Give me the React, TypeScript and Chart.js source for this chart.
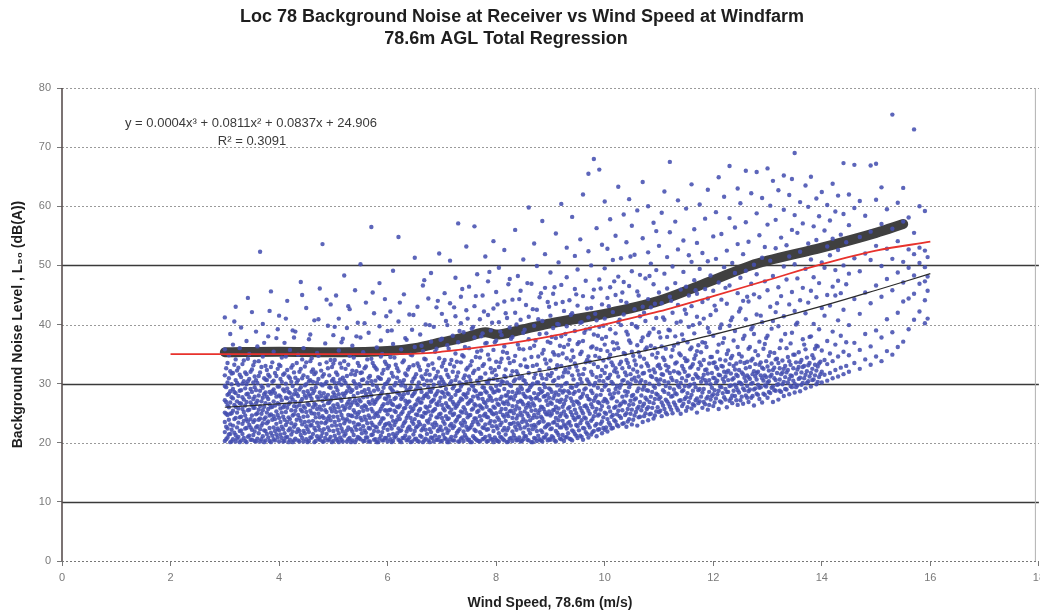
import React, { useEffect, useRef } from "react";
import { Chart, registerables } from "chart.js";

Chart.register(...registerables);

// ---------- text ----------
const titleLines = [
  "Loc 78 Background Noise at Receiver vs Wind Speed at Windfarm",
  "78.6m AGL Total Regression",
];
const xAxisTitle = "Wind Speed, 78.6m (m/s)";
const yAxisTitle = "Background Noise Level , L\u2089\u2080 (dB(A))";
const equationText = "y = 0.0004x\u00B3 + 0.0811x\u00B2 + 0.0837x + 24.906";
const rSquaredText = "R\u00B2 = 0.3091";

// ---------- axes ----------
const xMin = 0;
const xMax = 18;
const xStep = 2;
const yMin = 0;
const yMax = 80;
const yStep = 10;
const yGridValues = [10, 20, 30, 40, 50, 60, 70, 80];
const solidGridValues = [10, 30, 50];

// ---------- measured points: [windSpeed, noise1, noise2, ...] ----------
const scatter3to5: number[][] = [
  [3.00, 20.3, 21.8, 23.5, 25.1, 27.2, 29.6, 31.4, 35.8, 41.2],
  [3.05, 20.9, 22.4, 24.7, 26.3, 28.1, 30.2, 33.5],
  [3.10, 20.1, 21.5, 23.1, 24.9, 26.8, 28.7, 32.1, 38.4],
  [3.15, 20.6, 22.9, 25.4, 27.5, 29.1, 31.8, 36.6],
  [3.20, 20.2, 21.3, 24.2, 26.1, 28.4, 30.6, 34.1, 43.0],
  [3.25, 21.0, 23.4, 25.8, 27.9, 29.8, 32.7],
  [3.30, 20.4, 22.1, 24.4, 26.6, 28.9, 31.1, 39.5],
  [3.35, 20.8, 23.7, 25.2, 27.3, 30.4, 33.9],
  [3.40, 20.1, 22.5, 24.0, 26.9, 28.2, 29.9, 31.6, 37.2],
  [3.45, 21.2, 23.0, 25.6, 27.7, 30.8, 35.0],
  [3.50, 20.5, 22.2, 24.6, 26.4, 28.6, 32.4, 42.1],
  [3.55, 20.3, 21.9, 23.8, 25.9, 27.8, 29.4, 31.2, 33.7],
  [3.60, 20.7, 22.8, 25.0, 27.1, 30.1, 36.3],
  [3.65, 20.2, 22.3, 24.1, 26.2, 28.8, 31.9, 52.3],
  [3.70, 21.1, 23.3, 25.5, 27.6, 29.3, 34.6, 40.1],
  [3.75, 20.4, 22.0, 24.3, 26.7, 28.5, 30.7, 33.0],
  [3.80, 20.9, 23.6, 25.7, 27.4, 29.7, 31.5, 38.0],
  [3.85, 20.1, 21.7, 24.8, 26.0, 28.3, 32.8, 45.6],
  [3.90, 20.6, 22.6, 24.5, 27.0, 29.0, 30.5, 35.4],
  [3.95, 21.4, 23.2, 25.3, 27.8, 31.3, 37.7],
  [4.00, 20.2, 22.1, 24.2, 26.5, 28.0, 29.5, 33.2, 41.5],
  [4.05, 20.8, 22.7, 25.1, 27.2, 30.3, 34.4],
  [4.10, 20.3, 21.6, 23.9, 26.3, 28.7, 31.7, 36.9],
  [4.15, 21.0, 23.5, 25.9, 27.5, 29.2, 32.3, 44.0],
  [4.20, 20.5, 22.4, 24.0, 26.8, 28.4, 30.9, 35.7],
  [4.25, 20.1, 21.9, 24.6, 27.3, 29.6, 33.1, 39.0],
  [4.30, 20.7, 23.1, 25.4, 26.9, 28.9, 31.0, 38.8],
  [4.35, 20.4, 22.3, 24.7, 27.9, 30.6, 34.9],
  [4.40, 21.3, 23.7, 25.6, 27.0, 29.4, 32.5, 47.2],
  [4.45, 20.2, 22.0, 24.4, 26.2, 28.6, 31.4, 36.0],
  [4.50, 20.6, 22.8, 25.2, 27.6, 29.9, 33.6, 42.8],
  [4.55, 20.3, 21.8, 23.6, 26.4, 28.2, 30.4, 37.5],
  [4.60, 20.9, 23.0, 25.0, 27.4, 29.1, 32.0, 34.3],
  [4.65, 20.1, 22.5, 24.9, 26.6, 28.8, 31.6, 40.7],
  [4.70, 21.1, 23.4, 25.7, 27.8, 30.2, 35.2],
  [4.75, 20.5, 22.2, 24.3, 26.1, 28.5, 33.3, 46.1],
  [4.80, 20.2, 21.7, 24.5, 27.1, 29.7, 31.2, 53.6],
  [4.85, 20.8, 23.3, 25.5, 27.7, 30.0, 36.8],
  [4.90, 20.4, 22.6, 24.1, 26.7, 28.1, 32.6, 39.8],
  [4.95, 21.0, 23.8, 25.8, 27.2, 29.3, 34.0, 43.4],
];

const scatter5to7: number[][] = [
  [5.00, 20.3, 22.0, 24.4, 26.3, 28.5, 30.8, 33.4, 38.2],
  [5.05, 20.7, 22.9, 25.2, 27.6, 29.4, 31.9, 44.9],
  [5.10, 20.1, 21.6, 23.8, 26.0, 28.2, 30.1, 35.6, 41.0],
  [5.15, 20.5, 22.4, 24.7, 27.1, 29.8, 32.7, 37.0],
  [5.20, 21.2, 23.3, 25.6, 27.9, 30.5, 33.8, 48.3],
  [5.25, 20.2, 22.1, 24.0, 26.5, 28.7, 31.3, 39.4],
  [5.30, 20.8, 23.6, 25.9, 27.4, 29.2, 34.7, 42.6],
  [5.35, 20.4, 21.9, 24.5, 26.8, 28.9, 32.2, 36.4],
  [5.40, 20.1, 22.7, 25.1, 27.2, 30.0, 31.5, 45.8],
  [5.45, 21.0, 23.1, 24.8, 26.4, 28.4, 33.5, 40.3],
  [5.50, 20.6, 22.3, 24.2, 27.0, 29.6, 31.8, 37.8, 50.2],
  [5.55, 20.3, 22.8, 25.4, 27.7, 30.7, 35.3],
  [5.60, 20.9, 21.7, 23.9, 26.1, 28.3, 32.9, 43.7],
  [5.65, 20.2, 22.5, 24.6, 26.9, 29.1, 31.0, 38.6],
  [5.70, 21.3, 23.4, 25.7, 28.0, 30.4, 34.2, 56.5],
  [5.75, 20.5, 22.0, 24.3, 26.6, 28.8, 33.0, 41.9],
  [5.80, 20.1, 22.6, 25.0, 27.3, 29.5, 32.4, 36.1],
  [5.85, 20.7, 23.2, 25.3, 27.8, 30.9, 39.7, 47.0],
  [5.90, 20.4, 21.8, 24.1, 26.2, 28.6, 31.7, 35.0],
  [5.95, 20.8, 23.0, 25.5, 27.5, 29.9, 33.7, 44.3],
  [6.00, 20.2, 22.2, 24.8, 26.7, 28.1, 30.3, 32.6, 38.9],
  [6.05, 20.6, 22.9, 25.6, 27.1, 29.3, 34.5, 42.2],
  [6.10, 20.3, 21.5, 23.7, 26.4, 28.7, 31.2, 36.7, 49.1],
  [6.15, 21.1, 23.5, 25.2, 27.6, 30.1, 33.2],
  [6.20, 20.5, 22.4, 24.5, 26.0, 28.4, 32.1, 40.5, 54.8],
  [6.25, 20.1, 22.1, 24.9, 27.4, 29.7, 35.8],
  [6.30, 20.8, 23.3, 25.8, 28.2, 30.6, 33.9, 45.1],
  [6.35, 20.4, 21.9, 24.2, 26.5, 28.9, 31.4, 37.4],
  [6.40, 20.9, 22.7, 25.1, 27.0, 29.0, 32.8, 41.7],
  [6.45, 20.2, 23.6, 25.4, 27.9, 30.3, 34.8, 39.1],
  [6.50, 20.6, 22.0, 24.0, 26.3, 28.5, 31.1, 36.2, 51.3],
  [6.55, 20.3, 22.8, 24.7, 27.2, 29.6, 33.4, 43.0],
  [6.60, 21.2, 23.1, 25.7, 26.8, 29.2, 32.3, 38.3],
  [6.65, 20.1, 22.4, 24.4, 27.5, 30.8, 35.5, 46.6],
  [6.70, 20.7, 22.2, 25.0, 26.1, 28.0, 31.6, 34.1, 40.0],
  [6.75, 20.4, 23.4, 25.3, 27.7, 29.4, 33.1, 44.4],
  [6.80, 20.9, 21.8, 24.6, 26.9, 28.6, 30.5, 37.1, 48.7],
  [6.85, 20.2, 22.6, 25.5, 27.3, 29.8, 32.5, 39.6],
  [6.90, 20.5, 23.0, 24.3, 26.6, 28.3, 31.3, 35.9, 42.9],
  [6.95, 21.0, 22.3, 24.8, 27.0, 30.2, 34.3, 52.0],
];

const scatter7to9: number[][] = [
  [7.00, 20.3, 22.1, 24.2, 26.4, 28.6, 30.7, 32.9, 37.6, 41.8],
  [7.05, 20.8, 23.2, 25.5, 27.8, 29.9, 34.0, 45.3],
  [7.10, 20.1, 21.7, 24.0, 26.2, 28.4, 31.5, 36.5, 39.9],
  [7.15, 20.6, 22.9, 25.1, 27.3, 30.0, 33.3, 43.6, 50.8],
  [7.20, 20.4, 22.5, 24.7, 26.9, 29.2, 32.0, 38.1],
  [7.25, 21.1, 23.6, 25.9, 28.1, 30.6, 35.1, 41.4, 47.9],
  [7.30, 20.2, 22.0, 24.4, 26.6, 28.8, 31.9, 37.0, 57.1],
  [7.35, 20.7, 23.3, 25.3, 27.5, 29.5, 33.6, 40.2, 44.7],
  [7.40, 20.3, 21.9, 23.8, 26.0, 28.2, 30.9, 34.6, 38.7],
  [7.45, 20.9, 22.7, 25.0, 27.7, 30.3, 32.4, 42.4, 53.2],
  [7.50, 20.5, 22.4, 24.6, 26.8, 29.0, 31.2, 36.0, 46.4],
  [7.55, 20.1, 23.0, 25.6, 27.1, 29.7, 33.8, 39.3],
  [7.60, 20.8, 22.2, 24.1, 26.5, 28.9, 32.2, 37.8, 43.1, 56.6],
  [7.65, 20.4, 23.5, 25.2, 27.9, 30.5, 35.4, 48.5],
  [7.70, 20.2, 21.8, 24.5, 26.3, 28.3, 31.0, 34.4, 40.9],
  [7.75, 20.6, 22.6, 25.8, 27.4, 29.4, 33.0, 38.5, 44.9],
  [7.80, 21.0, 23.1, 24.9, 26.7, 28.7, 31.7, 36.8, 51.5],
  [7.85, 20.3, 22.3, 24.3, 27.2, 30.1, 34.9, 41.6, 47.3],
  [7.90, 20.7, 23.7, 25.4, 27.6, 29.3, 32.6, 39.0],
  [7.95, 20.1, 22.0, 24.8, 26.1, 28.5, 30.8, 35.7, 42.7, 54.1],
  [8.00, 20.5, 22.8, 25.0, 27.3, 29.6, 31.4, 33.7, 37.3, 45.5],
  [8.05, 20.2, 21.6, 23.9, 26.4, 28.8, 32.8, 40.4, 49.6],
  [8.10, 20.9, 23.4, 25.7, 27.8, 30.4, 34.2, 38.2],
  [8.15, 20.4, 22.5, 24.4, 26.6, 29.1, 31.3, 36.3, 43.9, 52.6],
  [8.20, 20.1, 22.1, 24.9, 27.0, 28.0, 30.2, 35.2, 41.1],
  [8.25, 20.7, 23.2, 25.3, 27.5, 29.8, 33.5, 39.5, 47.7],
  [8.30, 20.3, 21.9, 24.2, 26.2, 28.6, 32.1, 37.9, 44.2],
  [8.35, 20.8, 22.7, 25.6, 27.9, 30.7, 34.7, 42.0, 56.0],
  [8.40, 20.5, 23.3, 24.6, 26.9, 29.0, 31.6, 36.6, 48.2],
  [8.45, 20.2, 22.4, 25.1, 27.1, 29.5, 33.1, 40.8, 45.7],
  [8.50, 20.6, 21.7, 24.0, 26.5, 28.3, 30.6, 35.8, 38.6, 51.0],
  [8.55, 21.1, 23.6, 25.9, 27.7, 30.0, 32.9, 43.3],
  [8.60, 20.4, 22.2, 24.5, 26.7, 28.9, 31.8, 37.5, 41.3, 59.8],
  [8.65, 20.1, 22.9, 25.4, 27.4, 29.7, 34.5, 46.9],
  [8.70, 20.8, 23.0, 24.7, 26.3, 28.4, 31.0, 36.4, 39.8, 53.7],
  [8.75, 20.3, 22.0, 24.3, 27.6, 30.2, 33.2, 42.5, 49.9],
  [8.80, 20.6, 23.5, 25.5, 27.2, 29.1, 32.3, 38.4, 44.6],
  [8.85, 20.2, 21.8, 24.1, 26.0, 28.7, 30.9, 35.1, 40.6, 57.5],
  [8.90, 20.9, 22.6, 25.2, 27.9, 29.4, 34.1, 46.2, 51.9],
  [8.95, 20.4, 23.1, 24.8, 26.4, 28.2, 31.5, 37.1, 43.8],
];

const scatter9to11: number[][] = [
  [9.00, 20.5, 22.3, 24.6, 26.8, 29.0, 31.3, 33.9, 36.9, 41.5, 48.8],
  [9.05, 20.9, 23.4, 25.5, 27.5, 30.4, 35.3, 39.4, 45.2],
  [9.10, 20.2, 22.0, 24.2, 26.1, 28.5, 32.5, 37.7, 43.5, 55.4],
  [9.15, 21.3, 23.8, 25.8, 28.1, 31.0, 34.8, 40.0, 50.5],
  [9.20, 20.6, 22.6, 24.9, 27.3, 29.6, 33.0, 38.0, 46.7, 60.4],
  [9.25, 20.3, 23.1, 25.3, 26.6, 28.8, 31.9, 36.2, 42.3],
  [9.30, 21.0, 22.4, 24.4, 27.8, 30.1, 34.3, 39.7, 48.0, 53.0],
  [9.35, 20.7, 23.5, 26.0, 28.4, 32.7, 37.4, 44.1],
  [9.40, 20.4, 22.1, 24.7, 27.0, 29.3, 31.4, 35.6, 41.9, 58.2],
  [9.45, 21.5, 23.9, 25.6, 28.6, 33.4, 38.9, 46.0, 51.6],
  [9.50, 20.8, 22.8, 24.3, 26.9, 29.9, 32.2, 36.7, 43.2, 49.3],
  [9.55, 21.2, 23.3, 25.9, 27.6, 30.8, 35.0, 40.3, 54.4],
  [9.60, 20.5, 22.5, 25.0, 28.3, 31.6, 37.2, 44.8, 62.0],
  [9.65, 21.8, 24.1, 26.3, 29.2, 33.6, 39.1, 47.4],
  [9.70, 20.9, 23.0, 25.4, 27.4, 30.3, 34.6, 41.2, 52.4, 65.5],
  [9.75, 21.4, 23.7, 26.5, 28.8, 32.0, 36.1, 42.8, 50.0],
  [9.80, 22.0, 24.5, 27.1, 29.7, 33.3, 38.3, 45.9, 68.0],
  [9.85, 21.1, 23.2, 25.7, 28.0, 31.1, 35.9, 40.7, 56.3],
  [9.90, 22.3, 24.8, 26.7, 30.5, 34.4, 39.6, 47.6, 66.2],
  [9.95, 21.6, 23.6, 26.2, 28.9, 32.3, 37.6, 43.4, 53.5],
  [10.00, 22.2, 25.1, 27.4, 29.5, 31.8, 36.6, 41.0, 49.5, 60.8],
  [10.05, 21.9, 24.0, 26.8, 30.9, 35.5, 44.5, 52.8],
  [10.10, 23.0, 25.3, 28.2, 31.5, 34.9, 39.2, 46.3, 57.8],
  [10.15, 22.5, 24.7, 27.7, 30.0, 33.1, 37.0, 42.1, 50.9],
  [10.20, 23.6, 26.1, 29.1, 32.6, 38.5, 45.0, 55.0],
  [10.25, 22.8, 25.4, 28.5, 31.2, 36.0, 40.4, 48.1, 63.3],
  [10.30, 24.2, 26.6, 29.8, 33.7, 39.9, 44.0, 51.2],
  [10.35, 23.3, 27.0, 30.6, 35.2, 41.7, 47.2, 58.6],
  [10.40, 22.7, 25.0, 28.0, 31.4, 34.0, 38.8, 43.7, 53.9],
  [10.45, 24.0, 26.4, 29.4, 32.8, 37.3, 46.5, 61.2],
  [10.50, 23.1, 25.6, 27.9, 30.7, 35.4, 40.1, 49.0, 56.7],
  [10.55, 24.6, 27.3, 31.0, 33.9, 42.6, 51.8],
  [10.60, 22.9, 25.8, 28.7, 32.0, 36.5, 39.5, 45.6, 59.3],
  [10.65, 24.4, 26.9, 30.2, 34.6, 41.4, 48.4],
  [10.70, 23.5, 26.2, 29.0, 31.7, 37.8, 43.0, 54.6, 64.1],
  [10.75, 25.0, 27.6, 30.3, 35.8, 40.6, 47.8],
  [10.80, 23.8, 26.0, 28.8, 33.0, 38.2, 44.3, 52.2, 60.0],
  [10.85, 24.9, 27.8, 31.3, 36.4, 42.9, 50.3],
  [10.90, 24.1, 26.7, 29.6, 32.4, 39.3, 46.8, 57.2],
  [10.95, 25.3, 28.3, 30.8, 34.4, 41.1, 49.2, 55.8],
];

const scatter11to13: number[][] = [
  [11.00, 25.2, 27.4, 29.9, 33.2, 38.7, 45.4, 53.3],
  [11.05, 24.5, 26.8, 31.6, 36.3, 43.6, 58.9],
  [11.10, 25.7, 28.6, 30.4, 34.0, 40.8, 48.6, 62.5],
  [11.15, 24.8, 27.0, 32.2, 37.9, 46.1, 51.4],
  [11.20, 26.1, 29.3, 31.8, 39.0, 44.7, 55.6, 67.5],
  [11.25, 25.0, 27.9, 30.6, 35.7, 42.0, 49.8],
  [11.30, 26.4, 28.4, 33.4, 38.0, 47.0, 57.4],
  [11.35, 25.5, 29.7, 31.9, 36.8, 43.3, 52.7, 61.0],
  [11.40, 24.9, 27.2, 30.1, 34.8, 40.5, 45.9],
  [11.45, 26.6, 28.9, 32.5, 37.4, 48.9, 54.2],
  [11.50, 25.4, 27.7, 30.5, 33.8, 41.8, 46.4, 59.6],
  [11.55, 26.9, 29.5, 31.4, 39.6, 44.9, 51.7],
  [11.60, 25.8, 28.1, 32.9, 36.1, 43.1, 50.6, 63.7],
  [11.65, 26.3, 30.0, 34.2, 38.5, 47.5, 56.1],
  [11.70, 25.1, 27.5, 31.2, 35.5, 41.3, 45.2, 53.8],
  [11.75, 27.0, 29.1, 33.6, 40.2, 49.4, 60.3],
  [11.80, 25.9, 28.5, 30.9, 37.0, 43.8, 52.1],
  [11.85, 26.5, 30.6, 32.3, 36.9, 46.0, 57.9],
  [11.90, 25.6, 27.8, 31.7, 39.4, 44.4, 50.7, 62.8],
  [11.95, 27.3, 29.9, 34.5, 41.6, 48.3],
  [12.00, 26.2, 28.2, 31.0, 33.5, 38.1, 45.7, 54.9],
  [12.05, 27.5, 30.2, 32.8, 42.4, 51.1, 59.0],
  [12.10, 25.7, 28.8, 31.5, 36.6, 47.1, 64.9],
  [12.15, 26.8, 29.4, 33.0, 40.0, 44.2, 55.3],
  [12.20, 27.7, 30.3, 32.0, 37.7, 49.7, 61.6],
  [12.25, 26.0, 28.6, 31.9, 35.0, 43.5, 52.5],
  [12.30, 27.1, 29.6, 33.3, 39.8, 46.6, 58.0, 66.8],
  [12.35, 26.7, 28.0, 30.7, 34.7, 41.2, 50.4],
  [12.40, 27.9, 29.8, 32.4, 38.9, 48.7, 56.4],
  [12.45, 26.4, 28.9, 31.3, 36.2, 45.3, 53.6, 63.0],
  [12.50, 27.2, 30.1, 33.7, 42.7, 47.9, 60.5],
  [12.55, 26.6, 29.2, 31.6, 37.6, 44.0, 51.9],
  [12.60, 28.0, 30.4, 32.6, 40.9, 49.1, 57.3, 66.0],
  [12.65, 26.9, 28.7, 31.1, 35.9, 43.9, 54.0],
  [12.70, 27.6, 30.0, 33.9, 39.2, 46.9, 62.2],
  [12.75, 26.3, 29.0, 32.1, 38.4, 45.1, 50.1],
  [12.80, 28.3, 30.7, 31.8, 41.7, 48.5, 58.8, 65.8],
  [12.85, 27.4, 29.3, 33.2, 37.1, 44.6, 55.1],
  [12.90, 26.8, 30.9, 32.7, 40.4, 51.3, 61.4],
  [12.95, 28.1, 29.7, 31.4, 36.7, 47.3, 53.1],
];

const scatter13to16: number[][] = [
  [13.00, 27.6, 30.2, 32.9, 38.1, 45.8, 56.9, 66.4],
  [13.05, 28.4, 31.2, 35.3, 43.0, 50.8, 60.1],
  [13.10, 26.9, 29.5, 32.3, 40.6, 48.2, 64.3],
  [13.15, 28.8, 30.6, 34.1, 42.1, 52.9, 57.7],
  [13.20, 27.3, 29.9, 33.5, 39.7, 46.3, 62.7],
  [13.25, 28.6, 31.6, 37.3, 44.8, 54.7],
  [13.30, 27.9, 30.3, 32.5, 41.4, 49.8, 59.4, 65.2],
  [13.35, 29.0, 31.9, 36.0, 47.6, 53.4],
  [13.40, 28.2, 30.8, 33.8, 43.4, 51.5, 61.9],
  [13.45, 29.4, 31.3, 38.6, 45.5, 56.0, 64.6],
  [13.50, 28.5, 30.0, 34.9, 42.3, 50.2, 58.5, 69.0],
  [13.55, 29.7, 32.4, 40.3, 47.8, 55.5],
  [13.60, 28.7, 31.0, 33.6, 44.1, 52.3, 60.7],
  [13.65, 30.1, 32.8, 37.5, 46.2, 57.1],
  [13.70, 29.2, 31.5, 35.8, 41.9, 49.4, 63.5],
  [13.75, 30.4, 33.1, 43.7, 53.7, 59.9],
  [13.80, 29.5, 31.8, 38.0, 45.7, 51.0, 65.0],
  [13.85, 30.7, 34.3, 40.1, 48.0, 56.6],
  [13.90, 29.9, 32.2, 36.4, 44.6, 54.3, 61.3],
  [13.95, 31.1, 33.4, 39.2, 47.0, 58.3],
  [14.00, 30.2, 32.0, 35.6, 42.8, 50.5, 62.4],
  [14.05, 31.5, 34.0, 41.5, 49.6, 55.9],
  [14.10, 30.5, 33.3, 37.2, 45.0, 53.2, 60.2],
  [14.15, 31.8, 35.1, 43.2, 51.7, 57.6],
  [14.20, 30.9, 33.8, 38.8, 46.4, 54.5, 63.8],
  [14.25, 32.3, 36.6, 44.9, 49.2, 59.1],
  [14.30, 31.2, 34.6, 40.7, 47.4, 52.6, 61.8],
  [14.35, 32.7, 38.1, 45.3, 55.2],
  [14.40, 31.6, 35.4, 42.5, 50.0, 58.7, 67.3],
  [14.45, 33.0, 37.0, 46.8, 53.9],
  [14.50, 32.0, 34.8, 39.9, 48.6, 56.8, 62.0],
  [14.60, 33.5, 36.9, 44.3, 51.2, 59.7, 67.0],
  [14.70, 32.5, 35.7, 41.8, 49.0, 54.8, 60.9],
  [14.80, 34.1, 38.4, 45.4, 52.0, 58.4],
  [14.90, 33.2, 36.3, 43.6, 50.9, 55.7, 66.9],
  [15.00, 34.6, 39.0, 46.6, 53.3, 61.1, 67.2],
  [15.10, 33.8, 37.8, 44.7, 49.9, 57.0, 63.2],
  [15.20, 35.5, 40.9, 47.7, 52.8, 59.5],
  [15.30, 34.9, 38.7, 45.8, 51.1, 56.2, 75.5],
  [15.40, 36.2, 42.0, 48.8, 54.1, 60.6],
  [15.50, 37.1, 43.9, 47.1, 50.6, 57.4, 63.1],
  [15.60, 39.2, 44.4, 49.6, 52.7, 58.1],
  [15.70, 40.8, 45.2, 48.3, 51.9, 55.5, 73.0],
  [15.80, 42.2, 46.9, 50.4, 53.0, 60.0],
  [15.90, 40.2, 44.1, 47.3, 49.7, 52.5, 59.2],
  [15.95, 41.0, 45.7, 48.1, 51.4],
];

const scatterFill3to6: number[][] = [
  [3.025, 20.6, 22.7, 24.9, 26.9, 29.4, 32.6],
  [3.075, 21.4, 23.9, 26.0, 28.3, 30.9, 34.8],
  [3.125, 20.2, 22.2, 25.0, 27.7, 29.9, 31.7],
  [3.175, 21.7, 24.0, 26.4, 28.6, 33.2, 40.5],
  [3.225, 20.7, 22.6, 25.1, 27.0, 30.1, 32.2],
  [3.275, 20.1, 22.0, 24.3, 26.7, 28.8, 31.5, 36.0],
  [3.325, 21.5, 23.2, 25.7, 27.7, 30.0, 33.3],
  [3.375, 20.3, 22.4, 24.6, 26.3, 29.2, 31.9],
  [3.425, 21.0, 23.6, 25.5, 28.3, 30.4, 34.2, 44.5],
  [3.475, 20.5, 22.6, 24.0, 26.8, 29.1, 32.0],
  [3.525, 21.3, 23.5, 25.9, 27.4, 30.2, 33.1],
  [3.575, 20.2, 22.6, 24.8, 26.7, 28.9, 30.6, 38.8],
  [3.625, 21.6, 23.9, 25.6, 28.0, 31.3, 33.8],
  [3.675, 20.6, 22.9, 24.9, 27.0, 29.6, 32.8],
  [3.725, 20.1, 22.1, 24.0, 26.1, 28.2, 30.9, 36.9],
  [3.775, 21.5, 23.3, 25.1, 27.8, 30.6, 32.3],
  [3.825, 20.3, 22.5, 24.6, 26.5, 28.6, 31.2, 42.3],
  [3.875, 21.2, 23.9, 26.1, 28.7, 30.3, 33.6],
  [3.925, 20.4, 22.0, 24.0, 26.3, 28.4, 31.8],
  [3.975, 20.9, 22.4, 24.7, 26.7, 29.5, 32.5, 39.2],
  [4.025, 21.4, 23.5, 25.8, 27.8, 30.8, 33.0],
  [4.075, 20.2, 22.3, 24.4, 26.0, 29.0, 31.5],
  [4.125, 20.9, 23.0, 25.2, 27.6, 30.0, 34.6, 41.0],
  [4.175, 20.1, 22.1, 24.3, 26.5, 28.6, 31.2],
  [4.225, 21.4, 23.3, 25.5, 27.7, 30.3, 32.7],
  [4.275, 20.4, 22.7, 24.8, 26.2, 28.2, 31.9, 37.8],
  [4.325, 21.8, 23.9, 26.1, 28.3, 30.2, 33.5],
  [4.375, 20.2, 22.0, 24.2, 26.4, 29.0, 32.0],
  [4.425, 20.8, 23.1, 25.3, 27.4, 30.9, 34.1, 45.0],
  [4.475, 21.6, 23.5, 25.9, 28.0, 29.7, 32.9],
  [4.525, 20.1, 22.3, 24.5, 26.6, 28.7, 31.1],
  [4.575, 20.9, 22.9, 25.4, 27.9, 30.6, 33.8, 38.3],
  [4.625, 21.5, 23.7, 26.0, 28.4, 30.3, 32.4],
  [4.675, 20.3, 22.1, 24.3, 26.4, 29.4, 31.9],
  [4.725, 20.7, 22.8, 24.9, 27.4, 30.8, 34.7, 40.9],
  [4.775, 21.1, 23.4, 25.6, 27.9, 29.9, 32.2],
  [4.825, 20.2, 22.3, 24.2, 26.3, 28.4, 31.6],
  [4.875, 21.5, 23.6, 25.2, 27.5, 30.3, 33.6, 44.2],
  [4.925, 20.6, 22.1, 24.5, 26.8, 29.4, 31.4],
  [4.975, 20.1, 22.9, 25.3, 27.7, 30.5, 32.8],
  [5.025, 21.2, 23.5, 25.8, 28.1, 30.2, 34.0, 39.6],
  [5.075, 20.4, 22.2, 24.4, 26.5, 28.9, 31.5],
  [5.125, 20.9, 23.0, 25.3, 27.5, 30.7, 33.4],
  [5.175, 20.2, 21.9, 24.1, 26.2, 28.3, 31.0, 37.6],
  [5.225, 21.5, 23.7, 25.9, 28.4, 30.1, 32.5],
  [5.275, 20.6, 22.6, 24.7, 26.9, 29.5, 33.2, 43.1],
  [5.325, 20.1, 22.3, 24.6, 26.4, 28.6, 31.6],
  [5.375, 21.3, 23.4, 25.5, 27.9, 30.4, 34.4],
  [5.425, 20.5, 22.2, 24.3, 26.7, 29.3, 32.1, 38.0],
  [5.475, 20.8, 23.1, 25.2, 27.3, 29.9, 33.0],
  [5.525, 21.6, 23.8, 26.0, 28.6, 30.6, 31.9],
  [5.575, 20.3, 22.1, 24.4, 26.3, 28.9, 32.6, 40.2],
  [5.625, 20.9, 23.3, 25.6, 27.8, 30.2, 34.1],
  [5.675, 20.2, 22.4, 24.2, 26.6, 28.5, 31.3],
  [5.725, 21.4, 23.0, 25.3, 27.2, 29.8, 33.5, 45.4],
  [5.775, 20.6, 22.7, 24.8, 26.9, 30.5, 32.7],
  [5.825, 20.1, 21.9, 24.5, 27.6, 29.0, 31.1],
  [5.875, 21.2, 23.6, 25.7, 28.2, 30.8, 34.6, 37.3],
  [5.925, 20.4, 22.5, 24.1, 26.5, 29.3, 32.3],
  [5.975, 20.8, 23.2, 25.4, 27.4, 30.0, 33.3, 41.4],
];

const scatterFill6to10: number[][] = [
  [6.025, 21.3, 23.3, 25.5, 27.8, 30.7, 33.0],
  [6.075, 20.1, 22.4, 24.4, 26.6, 29.0, 31.8, 39.0],
  [6.125, 20.9, 23.0, 25.4, 27.4, 29.7, 34.4],
  [6.175, 21.6, 23.9, 26.1, 28.5, 31.0, 32.6],
  [6.225, 20.3, 22.0, 24.0, 26.3, 28.1, 30.4, 43.7],
  [6.275, 20.8, 22.8, 25.2, 27.7, 30.1, 33.6],
  [6.325, 21.2, 23.6, 25.9, 27.1, 29.5, 31.7, 37.7],
  [6.375, 20.5, 22.4, 24.6, 26.9, 28.4, 32.4],
  [6.425, 20.1, 22.2, 24.2, 26.0, 29.4, 34.9],
  [6.475, 21.4, 23.2, 25.7, 28.2, 30.8, 33.1, 41.6],
  [6.525, 20.7, 22.6, 24.8, 26.5, 29.0, 31.6],
  [6.575, 20.2, 23.5, 25.4, 27.5, 30.2, 32.9],
  [6.625, 21.0, 22.1, 24.5, 26.8, 28.6, 31.2, 36.4],
  [6.675, 20.4, 22.9, 25.1, 27.9, 29.8, 34.2, 47.5],
  [6.725, 21.5, 23.7, 25.9, 28.3, 30.5, 32.2],
  [6.775, 20.1, 22.3, 24.0, 26.2, 28.8, 31.5, 39.9],
  [6.825, 20.8, 23.1, 25.3, 27.1, 29.2, 33.4],
  [6.875, 21.2, 23.4, 25.7, 28.0, 30.9, 35.4],
  [6.925, 20.5, 22.0, 24.3, 26.4, 28.7, 32.0, 44.0],
  [6.975, 20.2, 22.7, 24.9, 27.6, 29.6, 31.1, 37.4],
  [7.025, 21.4, 23.6, 25.8, 28.4, 30.3, 33.5],
  [7.075, 20.6, 22.4, 24.5, 26.7, 29.1, 32.3, 40.6],
  [7.125, 20.1, 22.1, 24.1, 26.0, 28.2, 31.1, 35.9],
  [7.175, 21.0, 23.2, 25.6, 27.7, 30.4, 34.0],
  [7.225, 20.4, 22.8, 24.9, 26.5, 29.6, 32.9, 42.9],
  [7.275, 21.7, 23.9, 26.2, 28.7, 31.2, 33.7],
  [7.325, 20.2, 22.3, 24.5, 27.0, 28.9, 30.2, 38.9],
  [7.375, 20.9, 22.9, 25.1, 27.3, 29.9, 34.8, 46.0],
  [7.425, 21.3, 23.4, 25.6, 28.1, 31.4, 36.2],
  [7.475, 20.5, 22.2, 24.3, 26.6, 28.4, 32.7, 41.0],
  [7.525, 20.1, 22.6, 24.7, 27.2, 30.6, 33.1],
  [7.575, 21.1, 23.5, 25.8, 27.8, 29.5, 31.8, 39.6],
  [7.625, 20.6, 22.0, 24.1, 26.3, 28.7, 34.5, 44.8],
  [7.675, 20.3, 23.1, 25.4, 27.5, 30.1, 32.5],
  [7.725, 21.5, 23.8, 26.0, 28.3, 31.0, 35.6, 38.0],
  [7.775, 20.7, 22.5, 24.6, 26.9, 29.3, 33.3, 42.2],
  [7.825, 20.2, 22.2, 24.4, 26.1, 28.5, 30.3, 36.9],
  [7.875, 21.2, 23.3, 25.5, 27.9, 30.7, 34.1, 48.9],
  [7.925, 20.5, 22.8, 25.0, 27.1, 29.0, 31.9, 40.3],
  [7.975, 20.9, 23.6, 25.9, 28.6, 32.3, 37.0],
  [8.025, 20.3, 22.4, 24.3, 26.6, 28.9, 30.6, 43.4],
  [8.075, 21.0, 23.0, 25.2, 27.4, 29.8, 33.6, 38.8],
  [8.125, 20.6, 22.1, 24.7, 26.8, 30.3, 35.4],
  [8.175, 21.4, 23.7, 25.7, 28.0, 31.1, 32.4, 41.9],
  [8.225, 20.2, 22.5, 24.5, 26.5, 28.6, 34.3, 46.8],
  [8.275, 20.8, 23.2, 25.4, 27.7, 29.6, 31.4, 37.6],
  [8.325, 21.3, 23.4, 25.0, 27.3, 30.4, 33.8],
  [8.375, 20.4, 22.2, 24.1, 26.2, 28.4, 32.1, 40.0],
  [8.425, 20.9, 22.9, 25.8, 28.5, 30.9, 35.9, 44.3],
  [8.475, 20.3, 23.5, 24.6, 26.9, 29.1, 31.2],
  [8.525, 21.1, 22.6, 25.3, 27.9, 30.5, 34.1, 39.1],
  [8.575, 20.5, 23.0, 24.9, 26.4, 28.8, 32.8, 47.0],
  [8.625, 21.6, 23.8, 26.1, 27.7, 29.4, 36.0],
  [8.675, 20.1, 22.3, 24.2, 26.7, 30.0, 33.0, 42.6],
  [8.725, 20.7, 22.7, 25.5, 27.5, 31.6, 37.3],
  [8.775, 21.2, 23.3, 25.0, 28.2, 30.2, 34.6, 40.9],
  [8.825, 20.4, 22.1, 24.4, 26.1, 28.5, 31.5, 45.3],
  [8.875, 20.9, 23.6, 25.7, 27.8, 29.9, 35.7],
  [8.925, 21.4, 22.8, 24.8, 27.1, 30.8, 33.4, 38.5],
  [8.975, 20.6, 23.1, 25.3, 27.6, 29.2, 32.6, 43.0],
  [9.025, 21.1, 22.4, 24.9, 26.6, 28.6, 31.8, 37.9],
  [9.075, 20.4, 23.5, 25.6, 28.0, 30.6, 34.9, 46.3],
  [9.125, 21.7, 23.0, 25.1, 27.1, 29.7, 33.1, 40.1],
  [9.175, 20.7, 22.6, 24.5, 26.9, 28.9, 36.4],
  [9.225, 21.3, 23.7, 26.1, 28.5, 31.2, 35.1, 43.8],
  [9.275, 20.9, 22.8, 24.7, 27.2, 30.0, 32.4, 38.4],
  [9.325, 21.6, 23.3, 25.8, 28.7, 31.9, 36.6],
  [9.375, 20.6, 22.9, 25.2, 27.5, 29.4, 33.9, 41.6],
  [9.425, 21.9, 24.2, 26.4, 28.3, 30.7, 34.5],
  [9.475, 21.2, 23.0, 25.0, 27.0, 29.6, 32.9, 45.1],
  [9.525, 22.1, 24.4, 26.6, 28.8, 31.5, 37.0],
  [9.575, 21.0, 23.8, 25.4, 27.8, 30.2, 35.4, 40.4],
  [9.625, 22.4, 24.3, 26.2, 29.0, 32.5, 38.6],
  [9.675, 21.5, 23.4, 25.9, 27.9, 30.7, 34.0, 42.7],
  [9.725, 22.6, 24.9, 27.3, 29.9, 33.7, 39.3],
  [9.775, 21.8, 24.0, 26.0, 28.4, 31.5, 36.3, 44.6],
  [9.825, 22.9, 25.2, 27.6, 30.1, 34.7, 41.8],
  [9.875, 22.2, 24.6, 26.9, 29.3, 32.8, 38.1],
  [9.925, 23.2, 25.6, 28.1, 31.3, 35.7, 46.1],
  [9.975, 22.5, 24.3, 27.0, 30.4, 33.9, 39.8],
];

const scatterFill10to14: number[][] = [
  [10.025, 22.6, 24.9, 27.2, 29.8, 32.9, 37.9],
  [10.075, 23.4, 26.0, 28.9, 31.0, 34.3, 43.1],
  [10.125, 22.4, 24.4, 27.5, 30.3, 33.6],
  [10.175, 23.8, 25.9, 28.4, 32.1, 35.8, 47.3],
  [10.225, 23.0, 24.8, 27.0, 29.6, 31.9, 36.8],
  [10.275, 24.5, 26.3, 29.3, 33.3, 40.8],
  [10.325, 23.2, 25.5, 27.8, 30.5, 32.6, 45.4],
  [10.375, 24.7, 26.8, 28.7, 31.9, 35.0],
  [10.425, 23.6, 25.7, 28.6, 30.2, 33.5, 38.3],
  [10.475, 24.9, 27.1, 29.9, 31.6, 36.9, 51.5],
  [10.525, 23.9, 26.5, 28.1, 32.4, 34.7],
  [10.575, 25.2, 27.5, 30.4, 33.2, 39.7],
  [10.625, 24.3, 26.1, 29.2, 31.2, 35.3, 44.9],
  [10.675, 25.5, 28.0, 30.6, 32.9, 37.2],
  [10.725, 24.5, 26.6, 29.5, 31.8, 34.2, 42.0],
  [10.775, 25.7, 27.3, 28.9, 33.4, 36.1],
  [10.825, 24.8, 26.9, 30.0, 32.2, 38.6, 48.2],
  [10.875, 25.9, 28.6, 31.1, 34.9],
  [10.925, 24.6, 27.4, 29.3, 31.9, 36.0, 43.5],
  [10.975, 26.0, 28.1, 30.5, 33.0, 35.2],
  [11.025, 25.4, 27.7, 30.7, 32.6, 37.8],
  [11.075, 26.3, 28.9, 31.5, 34.4, 41.2],
  [11.125, 25.1, 27.3, 29.6, 33.1, 35.9],
  [11.175, 26.6, 28.3, 30.2, 32.8, 39.1],
  [11.225, 25.6, 27.8, 31.0, 34.6, 44.0],
  [11.275, 26.8, 29.0, 32.1, 36.4],
  [11.325, 25.9, 28.2, 30.4, 33.6, 40.3],
  [11.375, 27.1, 29.4, 31.7, 35.1],
  [11.425, 26.2, 28.7, 30.9, 33.0, 38.3],
  [11.475, 27.4, 29.6, 32.0, 34.3, 42.5],
  [11.525, 26.0, 28.4, 31.3, 33.9, 37.0],
  [11.575, 27.6, 29.8, 32.7, 35.8],
  [11.625, 26.5, 28.8, 30.8, 33.3, 39.9],
  [11.675, 27.2, 29.4, 31.6, 34.8, 45.8],
  [11.725, 26.7, 28.9, 31.0, 32.5, 36.5],
  [11.775, 27.8, 30.3, 33.1, 35.3],
  [11.825, 26.9, 29.1, 31.5, 34.0, 41.0],
  [11.875, 27.5, 30.1, 32.4, 36.2],
  [11.925, 26.4, 28.6, 30.6, 33.4, 38.7],
  [11.975, 27.9, 29.3, 31.8, 34.5],
  [12.025, 26.8, 28.9, 30.9, 33.6, 43.2],
  [12.075, 28.2, 30.5, 32.5, 35.4],
  [12.125, 27.0, 29.5, 31.4, 34.1, 39.4],
  [12.175, 28.4, 30.8, 32.9, 36.9],
  [12.225, 27.3, 29.1, 31.2, 33.9, 46.2],
  [12.275, 28.6, 30.6, 32.2, 35.6],
  [12.325, 27.5, 29.7, 31.7, 34.3, 40.7],
  [12.375, 28.8, 30.9, 33.0, 37.3],
  [12.425, 27.2, 29.4, 31.5, 33.4],
  [12.475, 28.5, 30.2, 32.3, 35.0, 42.2],
  [12.525, 27.8, 29.9, 31.9, 34.6],
  [12.575, 28.9, 31.0, 33.5, 38.1],
  [12.625, 27.6, 29.6, 31.4, 33.7, 44.7],
  [12.675, 29.0, 30.8, 32.8, 36.2],
  [12.725, 27.9, 30.1, 31.6, 34.2, 39.6],
  [12.775, 29.2, 31.2, 33.3, 35.5],
  [12.825, 28.1, 29.8, 32.0, 34.8],
  [12.875, 29.4, 31.4, 33.6, 41.5],
  [12.925, 28.3, 30.5, 32.5, 35.9],
  [12.975, 29.5, 31.1, 33.8, 37.7],
  [13.025, 28.6, 30.4, 32.2, 34.7],
  [13.075, 29.3, 31.5, 33.4, 39.3],
  [13.125, 28.9, 30.9, 32.7, 35.2],
  [13.175, 29.8, 31.8, 34.2, 43.6],
  [13.225, 28.8, 30.7, 32.6, 36.0],
  [13.275, 29.9, 31.9, 33.9],
  [13.325, 29.1, 31.1, 33.0, 38.4],
  [13.375, 30.2, 32.3, 34.5],
  [13.425, 29.6, 31.4, 33.2, 36.8],
  [13.475, 30.5, 32.6, 34.9],
  [13.525, 29.4, 31.7, 33.6, 40.0],
  [13.575, 30.8, 32.8, 35.3],
  [13.625, 29.8, 31.9, 34.0],
  [13.675, 30.9, 33.0, 36.6],
  [13.725, 30.1, 32.1, 34.4],
  [13.775, 31.2, 33.5, 37.9],
  [13.825, 30.6, 32.5, 34.8],
  [13.875, 31.4, 33.2, 35.9],
  [13.925, 30.3, 32.9, 36.3],
  [13.975, 31.6, 33.7],
];

// ---------- curves ----------
// thick dark curve (binned average)
const binnedWind = [3.0, 4.0, 5.0, 6.0, 6.5, 7.0, 7.5, 7.8, 8.0, 8.5, 9.0, 10.0, 11.0, 12.0, 12.7, 13.0, 14.0, 15.0, 15.5];
const binnedNoise = [35.3, 35.4, 35.3, 35.5, 36.0, 37.0, 38.0, 38.7, 38.3, 39.2, 40.2, 41.8, 44.0, 47.5, 50.0, 50.8, 53.0, 55.5, 57.0];
// red curve
const redWind = [2.0, 3.0, 4.0, 5.0, 6.0, 6.8, 7.0, 8.0, 9.0, 10.0, 11.0, 12.0, 13.0, 14.0, 15.0, 16.0];
const redNoise = [35.0, 35.0, 35.0, 35.0, 35.0, 35.2, 35.4, 36.5, 38.0, 40.0, 42.2, 44.8, 47.5, 50.2, 52.5, 54.0];
// thin black regression curve
const regWind = [3.0, 4.0, 5.0, 6.0, 7.0, 8.0, 9.0, 10.0, 11.0, 12.0, 13.0, 14.0, 15.0, 16.0];
const regNoise = [26.0, 26.6, 27.3, 28.3, 29.5, 30.8, 32.4, 34.2, 36.1, 38.3, 40.6, 43.1, 45.8, 48.6];

const scatterGroups = [
  scatter3to5,
  scatter5to7,
  scatter7to9,
  scatter9to11,
  scatter11to13,
  scatter13to16,
  scatterFill3to6,
  scatterFill6to10,
  scatterFill10to14,
];

const FONT = "'Liberation Sans', Arial, sans-serif";

export default function App() {
  const canvasRef = useRef<HTMLCanvasElement | null>(null);

  useEffect(() => {
    const canvas = canvasRef.current;
    if (!canvas) return;

    const scatterPoints = scatterGroups.flatMap((group) =>
      group.flatMap((col) => col.slice(1).map((y) => ({ x: col[0], y })))
    );
    const toXY = (xs: number[], ys: number[]) => xs.map((x, i) => ({ x, y: ys[i] }));

    const decorPlugin = {
      id: "decor",
      beforeDatasetsDraw(chart: any) {
        const { ctx, chartArea, scales } = chart;
        const { left, right, top, bottom } = chartArea;
        ctx.save();
        yGridValues.forEach((v) => {
          const py = Math.round(scales.y.getPixelForValue(v)) + 0.5;
          const solid = solidGridValues.includes(v);
          ctx.beginPath();
          ctx.setLineDash(solid ? [] : [2, 2]);
          ctx.strokeStyle = solid ? "#3a3a3a" : "#9a9a9a";
          ctx.lineWidth = solid ? 1.6 : 1;
          ctx.moveTo(left, py);
          ctx.lineTo(right, py);
          ctx.stroke();
        });
        const by = Math.round(scales.y.getPixelForValue(yMin)) + 0.5;
        ctx.beginPath();
        ctx.setLineDash([2, 2]);
        ctx.strokeStyle = "#777";
        ctx.lineWidth = 1;
        ctx.moveTo(left, by);
        ctx.lineTo(right, by);
        ctx.stroke();
        ctx.setLineDash([]);
        ctx.beginPath();
        ctx.strokeStyle = "#b0b0b0";
        ctx.moveTo(right - 3.5, top);
        ctx.lineTo(right - 3.5, bottom);
        ctx.stroke();
        ctx.beginPath();
        ctx.strokeStyle = "#5a5050";
        ctx.lineWidth = 1.6;
        ctx.moveTo(left, top);
        ctx.lineTo(left, bottom);
        ctx.stroke();
        ctx.restore();
      },
      afterDraw(chart: any) {
        const { ctx, chartArea } = chart;
        const { left, top, bottom } = chartArea;
        ctx.save();
        ctx.fillStyle = "#1e1e1e";
        ctx.textAlign = "center";
        ctx.textBaseline = "middle";
        ctx.font = `bold 18px ${FONT}`;
        ctx.fillText(titleLines[0], 522, 17);
        ctx.fillText(titleLines[1], 506, 39);
        ctx.font = `bold 14px ${FONT}`;
        ctx.fillText(xAxisTitle, 550, 603);
        ctx.save();
        ctx.translate(18, (top + bottom) / 2);
        ctx.rotate(-Math.PI / 2);
        ctx.fillText(yAxisTitle, 0, 0);
        ctx.restore();
        ctx.font = `13px ${FONT}`;
        ctx.fillStyle = "#3a3a3a";
        ctx.fillText(equationText, left + 189, top + 35);
        ctx.fillText(rSquaredText, left + 190, top + 53);
        ctx.restore();
      },
    };

    const chart = new Chart(canvas, {
      type: "scatter",
      data: {
        datasets: [
          {
            type: "line",
            label: "Regression",
            data: toXY(regWind, regNoise),
            borderColor: "#2a2a2a",
            borderWidth: 1.2,
            pointRadius: 0,
            tension: 0.4,
            fill: false,
            order: 0,
          },
          {
            type: "line",
            label: "Red curve",
            data: toXY(redWind, redNoise),
            borderColor: "#e8322c",
            borderWidth: 1.8,
            pointRadius: 0,
            cubicInterpolationMode: "monotone",
            fill: false,
            order: 0,
          },
          {
            label: "Measured",
            data: scatterPoints,
            backgroundColor: "rgba(70,80,176,0.88)",
            borderWidth: 0,
            pointRadius: 2.2,
            order: 1,
          },
          {
            type: "line",
            label: "Binned",
            data: toXY(binnedWind, binnedNoise),
            borderColor: "#404040",
            borderWidth: 10,
            borderCapStyle: "round",
            borderJoinStyle: "round",
            pointRadius: 0,
            cubicInterpolationMode: "monotone",
            fill: false,
            order: 2,
          },
        ],
      } as any,
      options: {
        animation: false,
        responsive: false,
        maintainAspectRatio: false,
        layout: { padding: { top: 88, right: 9, left: 0, bottom: 0 } },
        plugins: {
          legend: { display: false },
          title: { display: false },
          tooltip: { enabled: false },
        },
        scales: {
          x: {
            type: "linear",
            min: xMin,
            max: xMax,
            afterFit: (scale: any) => {
              scale.height = 54;
            },
            ticks: {
              stepSize: xStep,
              color: "#7a7a7a",
              font: { family: FONT, size: 11 },
              padding: 5,
            },
            grid: {
              drawOnChartArea: false,
              drawTicks: true,
              tickLength: 5,
              tickColor: "#777",
            },
            border: { display: false },
          },
          y: {
            type: "linear",
            min: yMin,
            max: yMax,
            afterFit: (scale: any) => {
              scale.width = 62;
            },
            ticks: {
              stepSize: yStep,
              color: "#7a7a7a",
              font: { family: FONT, size: 11 },
              padding: 6,
            },
            grid: {
              drawOnChartArea: false,
              drawTicks: true,
              tickLength: 5,
              tickColor: "#777",
            },
            border: { display: false },
          },
        },
      } as any,
      plugins: [decorPlugin],
    });

    return () => chart.destroy();
  }, []);

  return (
    <div
      style={{
        position: "fixed",
        left: 0,
        top: 0,
        width: 1040,
        height: 615,
        overflow: "hidden",
        background: "#fff",
      }}
    >
      <canvas ref={canvasRef} width={1050} height={615} style={{ display: "block" }} />
    </div>
  );
}
